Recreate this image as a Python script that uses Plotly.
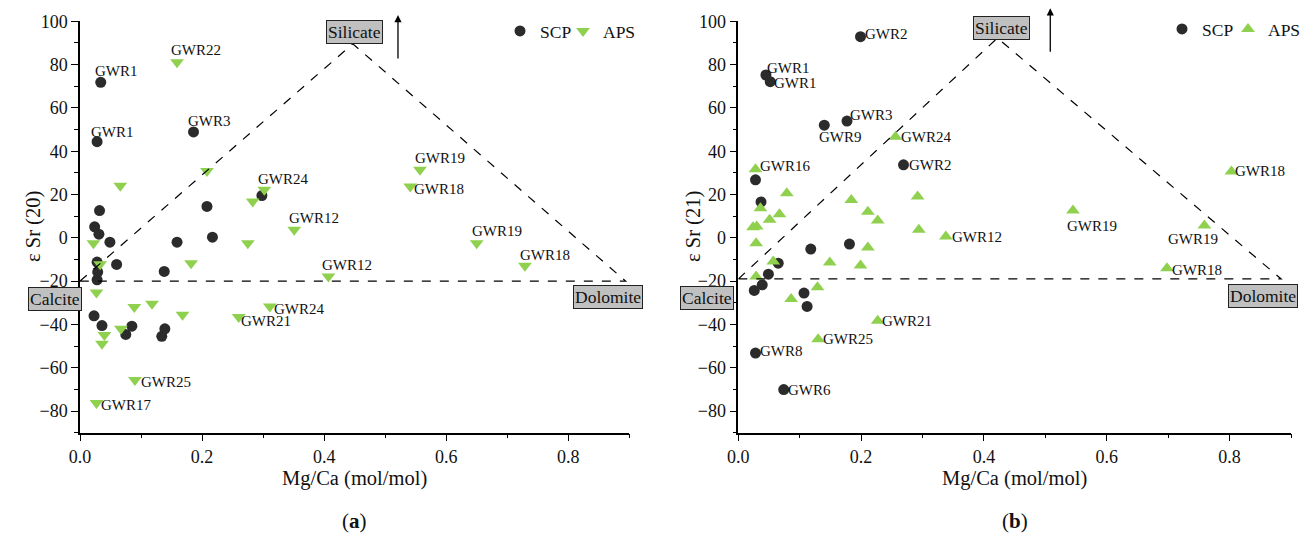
import plotly.graph_objects as go

# ---------------- data ----------------
# Panel (a): epsilon Sr (20) vs Mg/Ca
a_scp_x = [0.034, 0.028, 0.186, 0.208, 0.298, 0.032, 0.024, 0.031, 0.049, 0.159, 0.217,
           0.028, 0.060, 0.138, 0.029, 0.028, 0.023, 0.036, 0.075, 0.085, 0.139, 0.134]
a_scp_y = [71.8, 44.4, 48.9, 14.5, 19.5, 12.6, 5.1, 1.7, -2.0, -2.0, 0.3,
           -11.2, -12.3, -15.5, -15.8, -19.4, -36.0, -40.5, -44.6, -40.8, -42.0, -45.5]
a_scp_lab = ["GWR1", "GWR1", "GWR3"] + [""] * 19

a_aps_x = [0.159, 0.066, 0.208, 0.283, 0.302, 0.351, 0.022, 0.275, 0.033, 0.182, 0.407,
           0.027, 0.089, 0.118, 0.168, 0.311, 0.260, 0.067, 0.040, 0.036, 0.090, 0.027,
           0.557, 0.541, 0.650, 0.729]
a_aps_y = [81.1, 24.0, 30.9, 16.8, 22.2, 3.7, -2.5, -2.5, -12.2, -11.7, -17.9,
           -25.2, -32.0, -30.5, -35.5, -31.7, -36.6, -42.0, -44.9, -48.9, -65.7, -76.3,
           31.4, 23.7, -2.5, -12.9]
a_aps_lab = ["GWR22", "", "", "", "GWR24", "GWR12", "", "", "", "", "GWR12",
             "", "", "", "", "GWR24", "GWR21", "", "", "", "GWR25", "GWR17",
             "GWR19", "GWR18", "GWR19", "GWR18"]

# Panel (b): epsilon Sr (21) vs Mg/Ca
b_scp_x = [0.199, 0.045, 0.052, 0.140, 0.177, 0.269, 0.028, 0.037, 0.118, 0.181,
           0.065, 0.049, 0.039, 0.026, 0.107, 0.112, 0.028, 0.074]
b_scp_y = [92.9, 75.2, 72.1, 52.0, 53.9, 33.7, 26.8, 16.6, -5.2, -2.9,
           -11.7, -16.8, -21.7, -24.3, -25.5, -31.7, -53.2, -70.1]
b_scp_lab = ["GWR2", "GWR1", "GWR1", "GWR9", "GWR3", "GWR2", "", "", "", "",
             "", "", "", "", "", "", "GWR8", "GWR6"]

b_aps_x = [0.256, 0.028, 0.079, 0.184, 0.292, 0.036, 0.067, 0.211, 0.227, 0.051,
           0.024, 0.030, 0.294, 0.338, 0.029, 0.211, 0.057, 0.149, 0.199, 0.029,
           0.129, 0.086, 0.227, 0.130, 0.803, 0.545, 0.759, 0.698]
b_aps_y = [46.7, 31.7, 20.6, 17.5, 19.1, 13.7, 10.9, 12.0, 8.0, 8.3,
           4.9, 5.2, 3.7, 0.6, -2.5, -4.5, -10.9, -11.4, -12.8, -17.9,
           -22.8, -28.3, -38.3, -46.8, 30.6, 12.6, 5.7, -14.0]
b_aps_lab = ["GWR24", "GWR16"] + [""] * 11 + ["GWR12"] + [""] * 8 + \
            ["GWR21", "GWR25", "GWR18", "GWR19", "GWR19", "GWR18"]

# end-member mixing triangles (Mg/Ca, eps Sr): calcite, silicate, dolomite
a_endmembers_x = [0.0, 0.447, 0.894]
a_endmembers_y = [-20.0, 89.6, -20.0]
b_endmembers_x = [0.0, 0.422, 0.884]
b_endmembers_y = [-19.0, 92.3, -19.0]

tick_x = [0.0, 0.2, 0.4, 0.6, 0.8]
tick_y = [-80, -60, -40, -20, 0, 20, 40, 60, 80, 100]

# ---------------- styling ----------------
FONT = "Liberation Serif"
DARK = "#2b2b2b"
GREEN = "#8fd14f"
W, H = 1306, 538

# label offsets in pixels (dx right, dy down) keyed by (series, index)
lab_off = {
    ("a_scp", 0): (16, -11), ("a_scp", 1): (15, -10), ("a_scp", 2): (16, -11),
    ("a_aps", 0): (19, -12), ("a_aps", 4): (19, -11), ("a_aps", 5): (20, -12),
    ("a_aps", 10): (19, -12), ("a_aps", 15): (29, 3), ("a_aps", 16): (27, 4),
    ("a_aps", 20): (31, 2), ("a_aps", 21): (30, 2), ("a_aps", 22): (20, -12),
    ("a_aps", 23): (29, 2), ("a_aps", 24): (20, -12), ("a_aps", 25): (20, -11),
    ("b_scp", 0): (26, -3), ("b_scp", 1): (23, -7), ("b_scp", 2): (25, 1),
    ("b_scp", 3): (16, 12), ("b_scp", 4): (24, -6), ("b_scp", 5): (27, 0),
    ("b_scp", 16): (26, -2), ("b_scp", 17): (26, 0),
    ("b_aps", 0): (30, 0), ("b_aps", 1): (29, -3), ("b_aps", 13): (31, 0),
    ("b_aps", 22): (29, 0), ("b_aps", 23): (30, 0), ("b_aps", 24): (29, -1),
    ("b_aps", 25): (19, 15), ("b_aps", 26): (-11, 14), ("b_aps", 27): (30, 2),
}

fig = go.Figure()

series = [
    ("a_scp", a_scp_x, a_scp_y, a_scp_lab, "x", "y", "SCP", "circle", DARK, 11, "legend"),
    ("a_aps", a_aps_x, a_aps_y, a_aps_lab, "x", "y", "APS", "triangle-down", GREEN, 12, "legend3"),
    ("b_scp", b_scp_x, b_scp_y, b_scp_lab, "x2", "y2", "SCP", "circle", DARK, 11, "legend2"),
    ("b_aps", b_aps_x, b_aps_y, b_aps_lab, "x2", "y2", "APS", "triangle-up", GREEN, 12, "legend4"),
]

annotations = []
for key, xs, ys, labs, xa, ya, name, sym, col, size, leg in series:
    fig.add_trace(go.Scatter(
        x=xs, y=ys, mode="markers", name=name, xaxis=xa, yaxis=ya, legend=leg,
        marker=dict(symbol=sym, color=col, size=size, line=dict(width=0)),
        cliponaxis=False,
    ))
    for i, lab in enumerate(labs):
        if lab:
            dx, dy = lab_off.get((key, i), (20, -12))
            annotations.append(dict(
                x=xs[i], y=ys[i], xref=xa, yref=ya, text=lab, showarrow=False,
                xshift=dx, yshift=-dy, font=dict(family=FONT, size=15, color="#111"),
                xanchor="center", yanchor="middle"))

# dashed mixing triangles
shapes = []
for ex, ey, xr, yr in [(a_endmembers_x, a_endmembers_y, "x", "y"),
                       (b_endmembers_x, b_endmembers_y, "x2", "y2")]:
    path = f"M {ex[0]},{ey[0]} L {ex[1]},{ey[1]} L {ex[2]},{ey[2]} Z"
    shapes.append(dict(type="path", path=path, xref=xr, yref=yr,
                       line=dict(color="black", width=1.2, dash="dash")))

# end-member boxes
box = dict(showarrow=False, bgcolor="#c0c0c0", bordercolor="#222", borderwidth=1,
           borderpad=1, font=dict(family=FONT, size=17.5, color="#111"),
           xanchor="center", yanchor="middle")
annotations += [
    dict(x=0.449, y=95.2, xref="x", yref="y", text="Silicate", **box),
    dict(x=54.8 / W, y=1 - 299 / H, xref="paper", yref="paper", text="Calcite", **box),
    dict(x=0.8645, y=-27.1, xref="x", yref="y", text="Dolomite", **box),
    dict(x=0.429, y=96.8, xref="x2", yref="y2", text="Silicate", **box),
    dict(x=707.2 / W, y=1 - 298 / H, xref="paper", yref="paper", text="Calcite", **box),
    dict(x=0.854, y=-26.7, xref="x2", yref="y2", text="Dolomite", **box),
]
# arrows
for xa, ya, xv, y0, y1 in [("x", "y", 0.521, 82.1, 102.9), ("x2", "y2", 0.508, 85.2, 106.0)]:
    annotations.append(dict(x=xv, y=y1, ax=xv, ay=y0, xref=xa, yref=ya, axref=xa, ayref=ya,
                            text="", showarrow=True, arrowhead=2, arrowsize=1.1,
                            arrowwidth=1.3, arrowcolor="black"))

# axis titles and panel tags
tf = dict(family=FONT, size=20.5, color="#111")
ctr = dict(xref="paper", yref="paper", showarrow=False, xanchor="center", yanchor="middle")
annotations += [
    dict(x=33 / W, y=1 - 227 / H, text="ε Sr (20)", textangle=-90, font=tf, **ctr),
    dict(x=693 / W, y=1 - 227 / H, text="ε Sr (21)", textangle=-90, font=tf, **ctr),
    dict(x=354.7 / W, y=1 - 478 / H, text="Mg/Ca (mol/mol)", font=tf, **ctr),
    dict(x=1014.6 / W, y=1 - 478 / H, text="Mg/Ca (mol/mol)", font=tf, **ctr),
    dict(x=354.7 / W, y=1 - 521 / H, text="(<b>a</b>)",
         font=dict(family=FONT, size=21, color="#111"), **ctr),
    dict(x=1014.6 / W, y=1 - 521 / H, text="(<b>b</b>)",
         font=dict(family=FONT, size=21, color="#111"), **ctr),
]

ydom = [1 - 432.7 / H, 1 - 21.3 / H]
xax = dict(range=[0, 0.9], showline=True, linecolor="black", linewidth=1.5, mirror=False,
           ticks="outside", ticklen=7, tickwidth=1.3, tickcolor="black", automargin=False,
           tickvals=tick_x, ticktext=[f"{v:.1f}" for v in tick_x],
           minor=dict(ticks="outside", ticklen=4, tickwidth=1.2, tickcolor="black", dtick=0.1, tick0=0),
           showgrid=False, zeroline=False,
           tickfont=dict(family=FONT, size=18, color="#111"))
yax = dict(range=[-90, 100], showline=True, linecolor="black", linewidth=1.5,
           ticks="outside", ticklen=7, tickwidth=1.3, tickcolor="black", automargin=False,
           tickvals=tick_y, ticktext=[str(v).replace("-", "−") for v in tick_y],
           minor=dict(ticks="outside", ticklen=4, tickwidth=1.2, tickcolor="black", dtick=10, tick0=0),
           showgrid=False, zeroline=False, domain=ydom,
           tickfont=dict(family=FONT, size=18, color="#111"))

legfont = dict(family=FONT, size=17.5, color="#111")


def leg(xpx, ypx):
    return dict(x=xpx / W, y=1 - ypx / H, xanchor="left", yanchor="middle",
                orientation="h", font=legfont, bgcolor="rgba(0,0,0,0)",
                itemwidth=30, tracegroupgap=0)


fig.update_layout(
    width=W, height=H, margin=dict(l=0, r=0, t=0, b=0, autoexpand=False),
    paper_bgcolor="white", plot_bgcolor="white",
    xaxis=dict(xax, domain=[80 / W, 629.3 / W], anchor="y"),
    yaxis=dict(yax, anchor="x"),
    xaxis2=dict(xax, domain=[738.3 / W, 1291 / W], anchor="y2"),
    yaxis2=dict(yax, anchor="x2"),
    shapes=shapes, annotations=annotations,
    legend=leg(500, 31), legend3=leg(563, 31),
    legend2=leg(1162, 29), legend4=leg(1228, 29),
    showlegend=True,
)

fig.write_html("out.html")
